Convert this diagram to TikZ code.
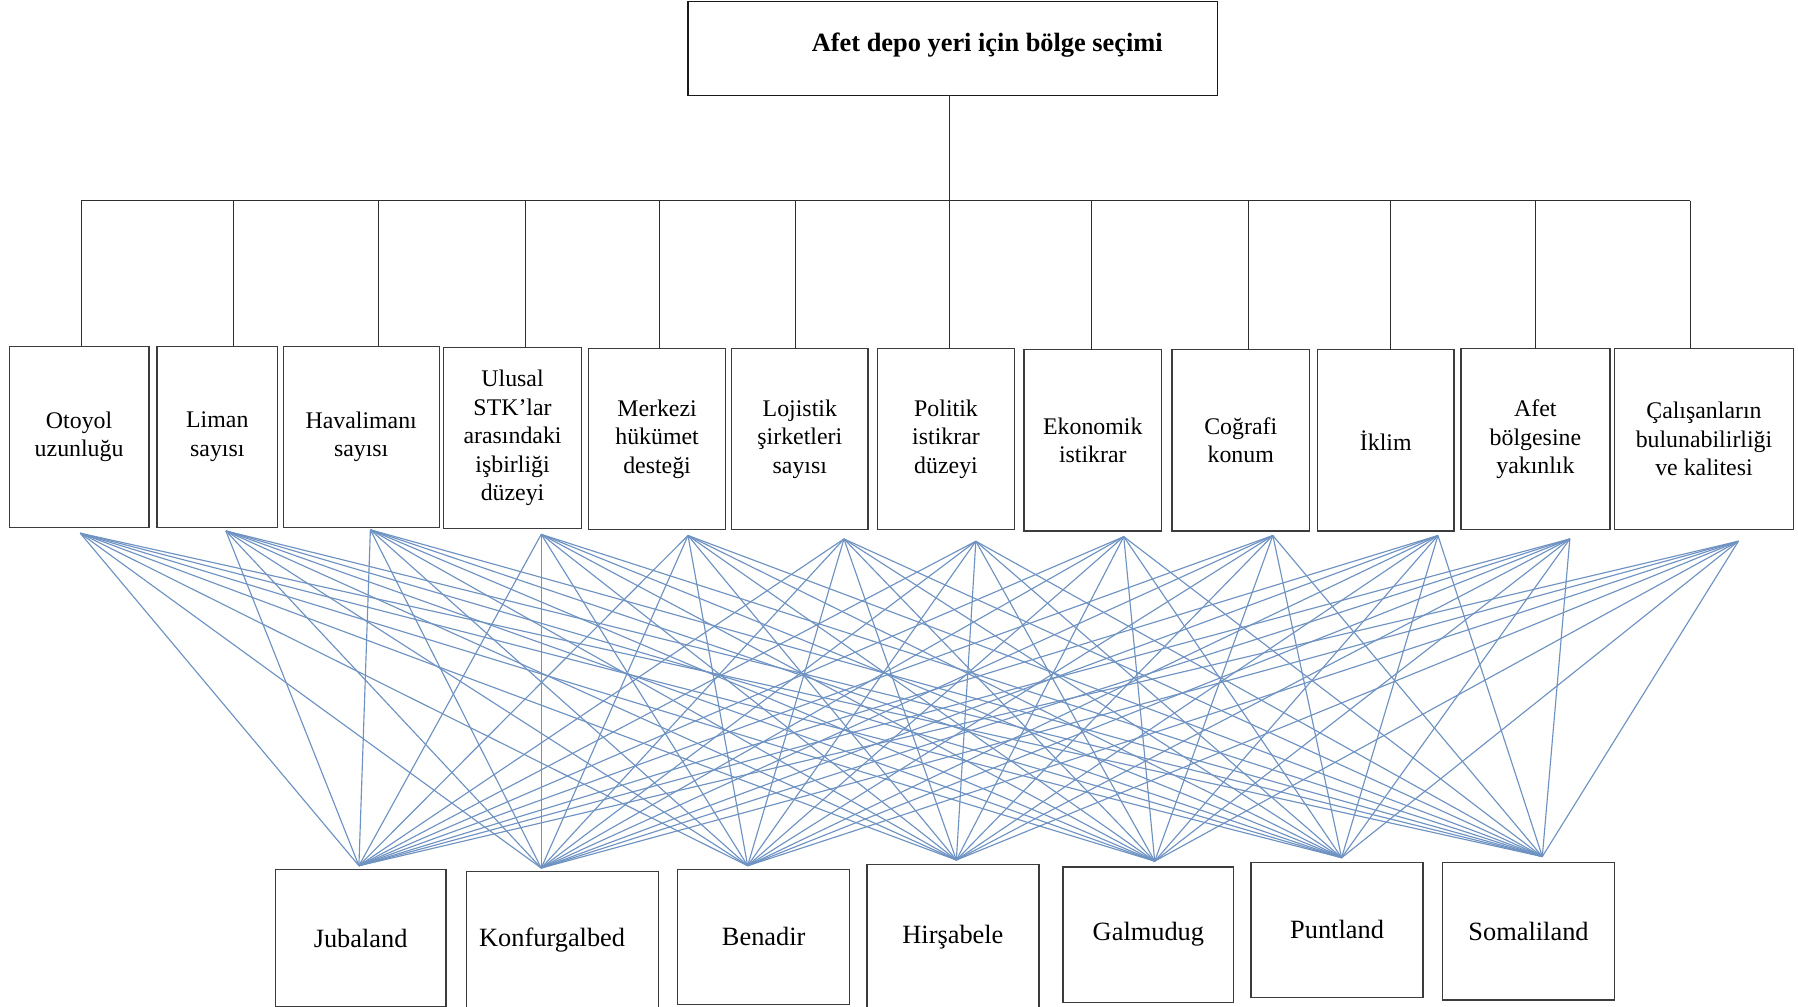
\documentclass[tikz,border=0pt]{standalone}
\usepackage{fontspec}
\setmainfont{Liberation Serif}
\usepackage{tikz}
\usepackage{xcolor}
\definecolor{ink}{HTML}{1A1A1A}
\definecolor{boxgray}{HTML}{3C3C3C}
\definecolor{treegray}{HTML}{2E2E2E}
\definecolor{linkblue}{HTML}{6E92C2}
\tikzset{
  goalbox/.style={draw=ink,line width=1.1pt,minimum width=462pt,minimum height=82pt,
                  inner sep=0pt,outer sep=0pt},
  goaltext/.style={font=\bfseries\fontsize{23}{28}\selectfont},
  critbox/.style={draw=boxgray,line width=1.1pt,minimum height=158pt,
                  inner sep=0pt,outer sep=0pt,align=center,
                  font=\fontsize{20.8}{24.8}\selectfont},
  altbox/.style={draw=boxgray,line width=1.1pt,inner sep=0pt,outer sep=0pt,
                 font=\fontsize{23}{28}\selectfont},
  treeline/.style={draw=treegray,line width=0.9pt},
  linkline/.style={draw=linkblue,line width=1pt}
}

\begin{document}
\begin{tikzpicture}[x=1pt,y=-1pt]
  \path[use as bounding box] (0,0) rectangle (1568,878);
  \node[goalbox] (goal) at (831,42) {};
  \node[goaltext] (goallabel) at (861,39) {Afet depo yeri için bölge seçimi};
  \foreach \i/\x/\y/\w/\txt in {
      1/69/381/122/{Otoyol\\uzunluğu},
      2/189.5/381/105/{Liman\\sayısı},
      3/315/381/136/{Havalimanı\\sayısı},
      4/447/382/120/{Ulusal\\STK’lar\\arasındaki\\işbirliği\\düzeyi},
      5/573/383/120/{Merkezi\\hükümet\\desteği},
      6/697.5/383/119/{Lojistik\\şirketleri\\sayısı},
      7/825/383/120/{Politik\\istikrar\\düzeyi},
      8/953/384/120/{Ekonomik\\istikrar},
      9/1082/384/120/{Coğrafi\\konum},
      10/1208.5/384/119/{İklim},
      11/1339/383/130/{Afet\\bölgesine\\yakınlık},
      12/1486/383/156/{Çalışanların\\bulunabilirliği\\ve kalitesi}}
    \node[critbox,minimum width=\w pt] (k\i) at (\x,\y) {\txt};
  \foreach \j/\x/\y/\w/\h/\txt in {
      1/314.5/818/149/120/Jubaland,
      2/490.5/820/167/120/{Konfurgalbed\hspace*{18pt}},
      3/666/817/150/118/Benadir,
      4/831/817/150/126/Hirşabele,
      5/1001.5/815/149/118/Galmudug,
      6/1166/811/150/118/Puntland,
      7/1333/812/150/120/Somaliland}
    \node[altbox,minimum width=\w pt,minimum height=\h pt] (a\j) at (\x,\y) {\txt};
  \coordinate (busL) at (71,175);
  \coordinate (busR) at (1474,175);
  \draw[treeline] (goal.south -| 828,0) -- (828,0 |- busL);
  \draw[treeline] (busL) -- (busR);
  \foreach \i/\x in {1/71,2/204,3/330,4/458,5/575,6/694,7/828,8/952,9/1089,10/1213,11/1339,12/1474}
    \draw[treeline] (\x,0 |- busL) -- (\x,0 |- k\i.north);
  \foreach \i/\x/\y in {1/70/465,2/197/463,3/323/462,4/472/466,5/600/467,6/736/470,
                        7/851/472,8/980/468,9/1110/467,10/1254/467,11/1369/470,12/1516/472}
    \coordinate (kh\i) at (\x,\y);
  \foreach \j/\x/\y in {1/313/755,2/472/757,3/652/755,4/834/750,5/1007/751,6/1170/748,7/1345/747}
    \coordinate (ah\j) at (\x,\y);
  \foreach \i in {1,...,12}{
    \foreach \j in {1,...,7}{
      \draw[linkline] (kh\i) -- (ah\j);
    }
  }
\end{tikzpicture}
\end{document}
